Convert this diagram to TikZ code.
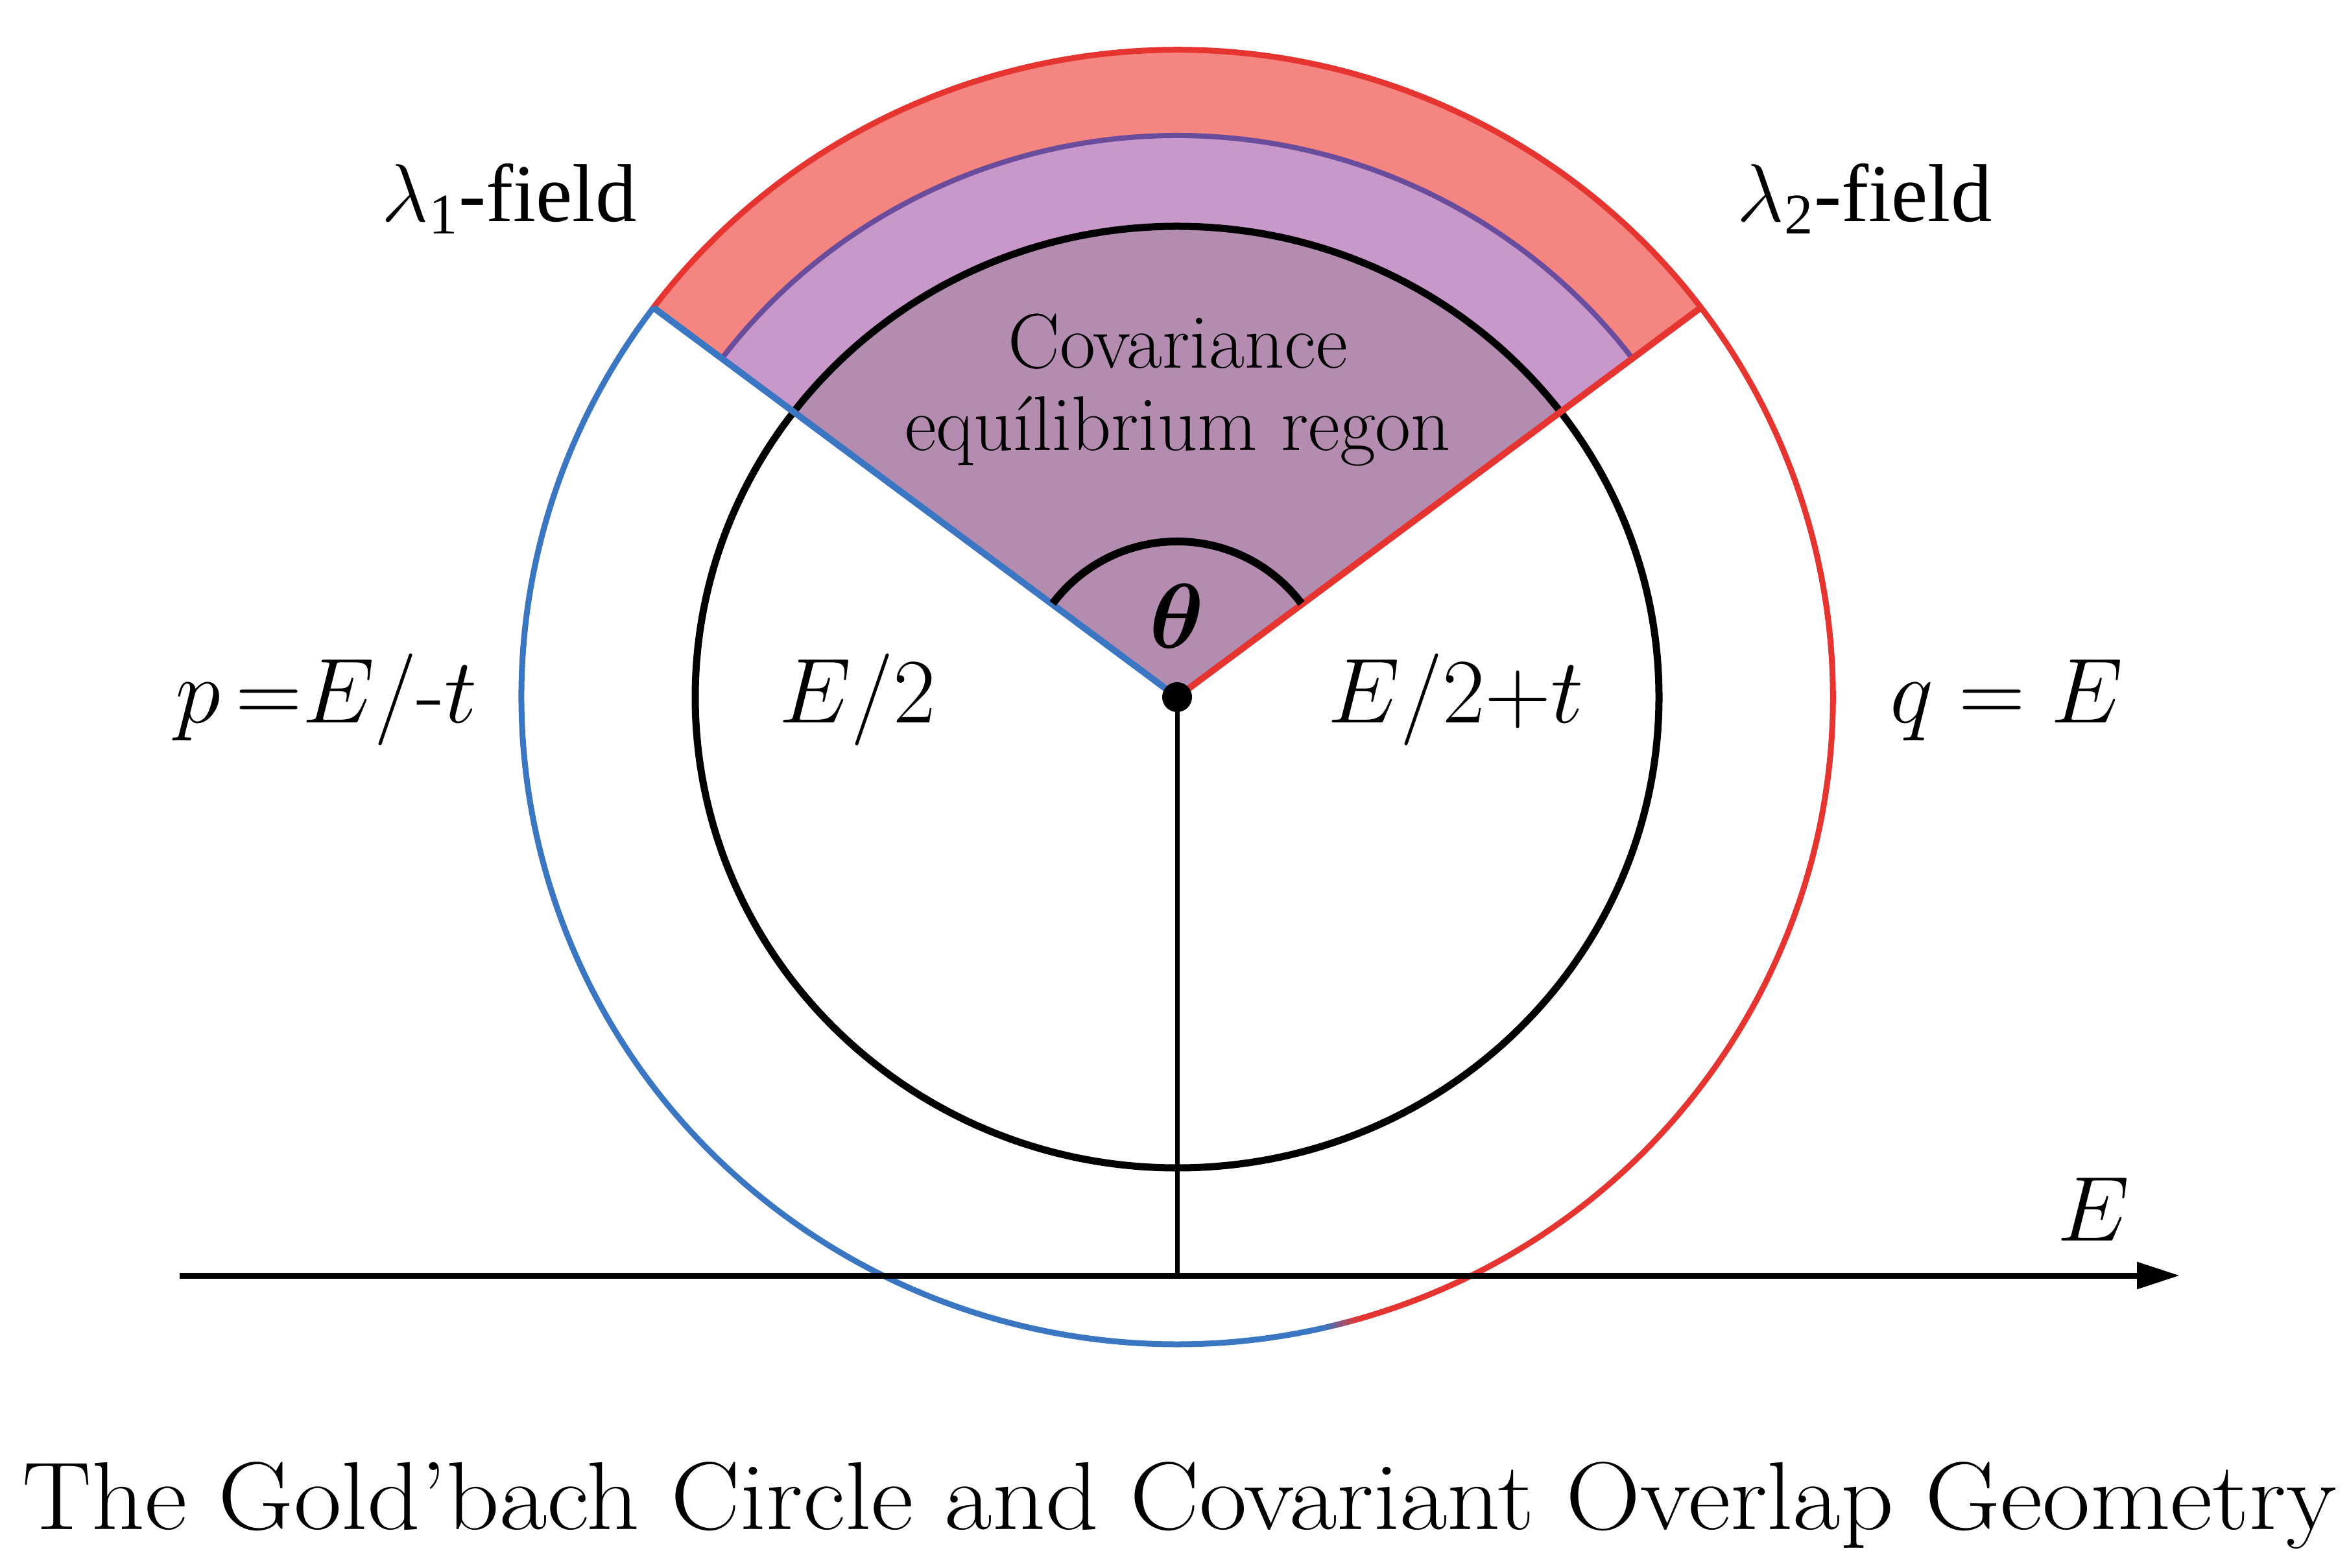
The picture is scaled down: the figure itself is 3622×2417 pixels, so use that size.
\RequirePackage{fix-cm}
\documentclass[tikz,border=0pt]{standalone}
\usepackage{amsmath}
\usepackage{fontspec}
\newfontfamily\libserif{Liberation Serif}
\usetikzlibrary{arrows.meta}
\definecolor{bandred}{RGB}{245,133,128}
\definecolor{linered}{RGB}{230,52,48}
\definecolor{bandpurple}{RGB}{200,152,202}
\definecolor{linepurple}{RGB}{106,76,156}
\definecolor{wedgefill}{RGB}{180,140,176}
\definecolor{lineblue}{RGB}{58,118,194}
\begin{document}
\begin{tikzpicture}[x=0.01cm,y=0.01cm,
  mathlbl/.style={font=\fontsize{40.4}{48}\selectfont, anchor=base, inner sep=0pt},
  fieldlbl/.style={font=\libserif\fontsize{36}{42}\selectfont, anchor=base, inner sep=0pt},
  regionlbl/.style={font=\fontsize{34}{40}\selectfont, anchor=base, inner sep=0pt},
  outerline/.style={line width=0.09cm},
  rayline/.style={line width=0.1cm}]
\useasboundingbox (0,0) rectangle (3622,2417);
\fill[white] (0,0) rectangle (3622,2417);
\coordinate (O) at (1815,1342);
\coordinate (F) at (1815,450);
\coordinate (axL) at (277,450);
\coordinate (axR) at (3361,450);
\begin{scope}[shift={(O)}]
  % red band
  \fill[bandred] (37:1011 and 998) arc[start angle=37,end angle=143,x radius=1011,y radius=998]
     -- (143:880 and 866) arc[start angle=143,end angle=37,x radius=880,y radius=866] -- cycle;
  % purple band
  \fill[bandpurple] (37:880 and 866) arc[start angle=37,end angle=143,x radius=880,y radius=866]
     -- (143:743 and 726) arc[start angle=143,end angle=37,x radius=743,y radius=726] -- cycle;
  % inner wedge
  \fill[wedgefill] (0,0) -- (37:743 and 726) arc[start angle=37,end angle=143,x radius=743,y radius=726] -- cycle;
  % purple outline
  \draw[linepurple,line width=0.08cm] (37:880 and 866) arc[start angle=37,end angle=143,x radius=880,y radius=866];
  % outer circle
  \draw[linered,outerline] (-74:1011 and 998) arc[start angle=-74,end angle=143,x radius=1011,y radius=998];
  \draw[lineblue,outerline] (143:1011 and 998) arc[start angle=143,end angle=283,x radius=1011,y radius=998];
  \foreach \k/\pct in {0/8,1/25,2/42,3/58,4/75,5/92}{
    \pgfmathsetmacro\sa{283+0.5*\k}
    \pgfmathsetmacro\ea{283.6+0.5*\k}
    \draw[linered!\pct!lineblue,outerline] (\sa:1011 and 998) arc[start angle=\sa,end angle=\ea,x radius=1011,y radius=998];
  }
  % inner circle
  \draw[black,line width=0.11cm] (0,0) ellipse[x radius=743,y radius=726];
  \coordinate (L) at (143:1011 and 998);
  \coordinate (R) at (37:1011 and 998);
  \coordinate (T1) at (37:240);
\end{scope}
% rays
\draw[lineblue,rayline] (O) -- (L);
\draw[linered,rayline] (O) -- (R);
% theta arc
\draw[black,line width=0.12cm] (T1) arc[start angle=37,end angle=143,radius=240];
% vertical line and axis
\draw[black,line width=0.07cm] (O) -- (F);
\draw[black,line width=0.09cm,-{Triangle[length=0.66cm,width=0.4cm]}] (axL) -- (axR);
\node[circle,fill=black,inner sep=0pt,minimum size=0.46cm] (dot) at (O) {};
% labels
\node[fieldlbl] (l1) at (785,2075) {$\lambda_{\text{1}}$-field};
\node[fieldlbl] (l2) at (2875,2075) {$\lambda_{\text{2}}$-field};
\node[regionlbl] (cov) at (1816,1849) {Covariance};
\node[regionlbl] (equ) at (1816,1722) {equílibrium regon};
\node[mathlbl] (th) at (1815,1417) {$\boldsymbol{\theta}$};
\node[mathlbl] (pl) at (503,1302) {$p\,{=}E/\text{-}t$};
\node[mathlbl] (e2) at (1322,1302) {$E/2$};
\node[mathlbl] (e2t) at (2245,1302) {$E/2{+}t$};
\node[mathlbl] (ql) at (3094,1302) {$q=E$};
\node[mathlbl] (ea) at (3228,504) {$E$};
\node[anchor=base west,inner sep=0pt] (title) at (34,59)
  {\resizebox{35.66cm}{1.04cm}{\fontsize{40}{48}\selectfont The Gold’bach Circle and Covariant Overlap Geometry}};
\end{tikzpicture}
\end{document}
